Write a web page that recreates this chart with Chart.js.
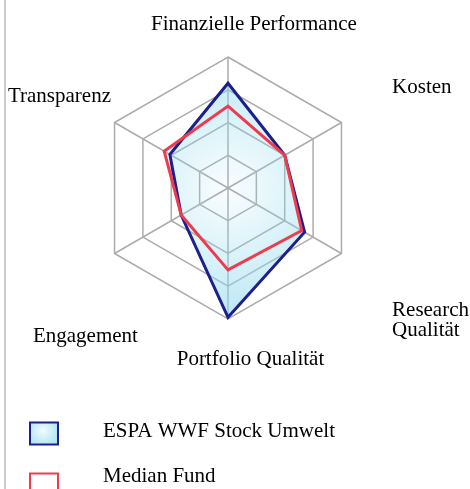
<!DOCTYPE html>
<html>
<head>
<meta charset="utf-8">
<script src="https://cdn.jsdelivr.net/npm/chart.js@4"></script>
<style>
    body { margin: 0; background: #fff; }
    #wrap { position: relative; width: 470px; height: 489px; overflow: hidden; }
    #rule { position: absolute; left: 4px; top: 0; width: 2px; height: 489px; background: #cbcbcb; }
    canvas { position: absolute; left: 0; top: 0; }
</style>
</head>
<body>
<div id="wrap">
    <div id="rule"></div>
    <canvas id="radar" width="470" height="489"></canvas>
</div>
<script>
// Achsen (im Uhrzeigersinn ab oben)
const categories = ['Finanzielle Performance', 'Kosten', ['Research', 'Qualität'], 'Portfolio Qualität', 'Engagement', 'Transparenz'];
const seriesNames = ['ESPA WWF Stock Umwelt', 'Median Fund'];
const fundValues = [3.2, 2.0, 2.7, 3.95, 1.65, 2.05];
const medianValues = [2.5, 2.0, 2.6, 2.5, 1.65, 2.25];
const scaleMax = 4;

// Label-Versatz relativ zum äußeren Eckpunkt (links, Grundlinie)
const labelOffsets = [[-77, -27], [50.6, -29.5], [50.6, 62.5], [-51.3, 46], [-81.6, 88.2], [-106.6, -20.8]];
const FONT = '21px "Liberation Serif", "Times New Roman", serif';

// Radialer Verlauf für die Fondsfläche
function fundFill(context) {
    const chart = context.chart;
    const scale = chart.scales.r;
    if (!scale || !chart.chartArea) return 'rgba(150,220,240,0.5)';
    const g = chart.ctx.createRadialGradient(scale.xCenter, scale.yCenter, 0, scale.xCenter, scale.yCenter, scale.drawingArea);
    g.addColorStop(0, 'rgba(150,220,240,0.05)');
    g.addColorStop(1, 'rgba(140,215,240,0.6)');
    return g;
}

// Achsenbeschriftungen und Legende selbst zeichnen
const labelPlugin = {
    id: 'labelPlugin',
    afterDraw(chart) {
        const ctx = chart.ctx;
        const scale = chart.scales.r;
        ctx.save();
        ctx.font = FONT;
        ctx.fillStyle = '#000';
        ctx.textBaseline = 'alphabetic';
        ctx.textAlign = 'left';
        categories.forEach((label, i) => {
            const p = scale.getPointPosition(i, scale.drawingArea);
            const lines = Array.isArray(label) ? label : [label];
            lines.forEach((line, j) => {
                ctx.fillText(line, p.x + labelOffsets[i][0], p.y + labelOffsets[i][1] + j * 20);
            });
        });

        // Legende
        const items = chart.data.datasets;
        items.forEach((ds, i) => {
            const top = 422.5 + i * 51;
            if (i === 0) {
                const g = ctx.createRadialGradient(43, top + 8, 0, 43, top + 8, 18);
                g.addColorStop(0, '#f0fbfe');
                g.addColorStop(1, '#a9e2f4');
                ctx.fillStyle = g;
                ctx.fillRect(30, top, 28, 22);
            }
            ctx.lineWidth = 2;
            ctx.strokeStyle = ds.borderColor;
            ctx.strokeRect(30, top, 28, 22);
            ctx.fillStyle = '#000';
            ctx.fillText(ds.label, 103, 436.7 + i * 45);
        });
        ctx.restore();
    }
};

new Chart(document.getElementById('radar'), {
    type: 'radar',
    data: {
        labels: categories,
        datasets: [
            {
                label: seriesNames[0],
                data: fundValues,
                borderColor: '#1c1f8c',
                backgroundColor: fundFill,
                borderWidth: 3,
                fill: true,
                pointRadius: 0,
                tension: 0,
                order: 2
            },
            {
                label: seriesNames[1],
                data: medianValues,
                borderColor: '#ee3c4e',
                backgroundColor: 'rgba(0,0,0,0)',
                borderWidth: 3,
                fill: false,
                pointRadius: 0,
                tension: 0,
                order: 1
            }
        ]
    },
    options: {
        responsive: false,
        animation: false,
        layout: { padding: { left: 97, right: 111, top: 57, bottom: 170 } },
        plugins: {
            legend: { display: false },
            tooltip: { enabled: false }
        },
        scales: {
            r: {
                min: 0,
                max: scaleMax,
                ticks: { display: false, stepSize: 1 },
                pointLabels: { display: false },
                grid: { color: '#acacac', lineWidth: 1.5 },
                angleLines: { color: '#acacac', lineWidth: 1.5 }
            }
        }
    },
    plugins: [labelPlugin]
});
</script>
</body>
</html>
